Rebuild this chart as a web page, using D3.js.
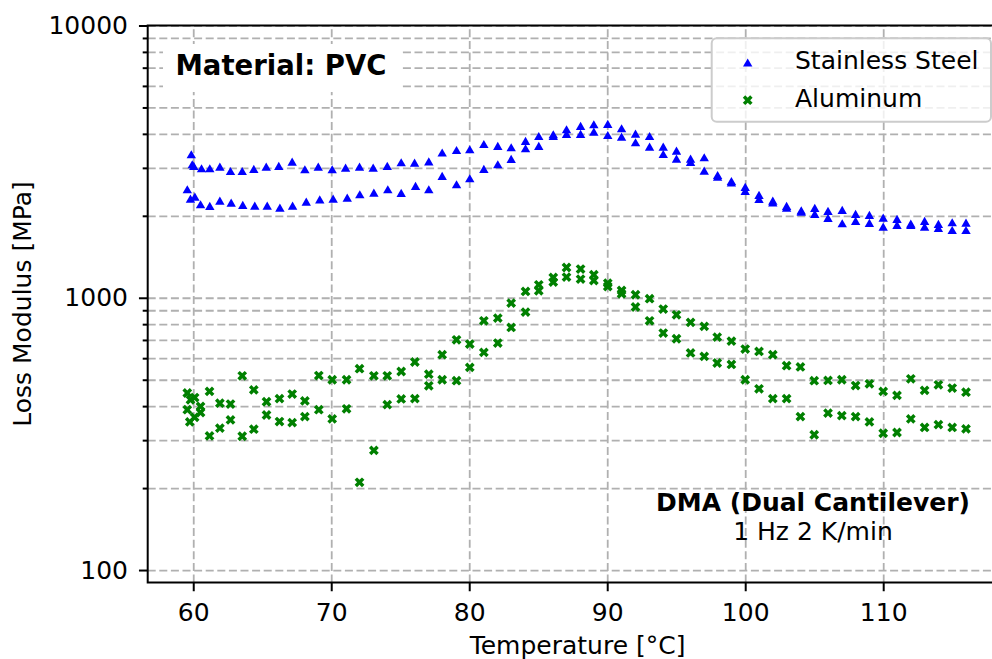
<!DOCTYPE html>
<html>
<head>
<meta charset="utf-8">
<script src="https://cdn.jsdelivr.net/npm/d3@7"></script>
<style>
body { margin: 0; background: #fff; }
svg { display: block; font-family: "DejaVu Sans", sans-serif; }
</style>
</head>
<body>
<script>
// [temperature °C, loss modulus MPa]
var steelRunA = [
    [59.86, 3360], [59.93, 3088], [60.04, 3044], [60.60, 2985], [61.20, 2985], [61.93, 3025],
    [62.70, 2917], [63.55, 2917], [64.39, 2967], [65.29, 3025], [66.20, 3044], [67.17, 3156],
    [68.09, 2960], [69.06, 3025], [70.07, 2960], [71.04, 3000], [72.05, 3025], [73.04, 3000],
    [74.06, 3044], [75.07, 3140], [76.04, 3130], [77.07, 3165], [78.04, 3411], [79.08, 3484],
    [80.04, 3505], [81.06, 3665], [82.07, 3604], [83.04, 3565], [84.08, 3760], [85.04, 3922],
    [86.09, 3980], [87.05, 4151], [88.07, 4269], [89.03, 4330], [90.04, 4341], [91.04, 4186],
    [92.05, 4000], [93.07, 3922], [94.06, 3583], [95.02, 3464], [96.04, 3237], [97.03, 3276],
    [98.0, 2820], [99.0, 2680], [100.0, 2548], [101.0, 2382], [102.0, 2270], [103.0, 2170],
    [104.06, 2090], [105.04, 2134], [106.0, 2080], [107.03, 2098], [108.0, 2028], [109.0, 2011],
    [110.0, 1966], [111.0, 1944], [112.0, 1870], [113.0, 1912], [114.0, 1865], [115.0, 1891],
    [116.0, 1884]
];
var steelRunB = [
    [59.57, 2499], [59.80, 2308], [60.12, 2348], [60.53, 2202], [61.20, 2171], [61.93, 2269],
    [62.75, 2231], [63.59, 2189], [64.46, 2176], [65.36, 2176], [66.28, 2139], [67.20, 2176],
    [68.19, 2250], [69.17, 2296], [70.14, 2308], [71.16, 2328], [72.07, 2396], [73.09, 2428],
    [74.10, 2499], [75.07, 2422], [76.11, 2570], [77.07, 2499], [78.04, 2797], [79.08, 2607],
    [80.04, 2743], [81.06, 2967], [82.07, 3088], [83.04, 3230], [84.08, 3535], [85.04, 3604],
    [86.09, 3922], [87.05, 3989], [88.07, 3989], [89.03, 4067], [90.04, 3955], [91.04, 3899],
    [92.05, 3719], [93.07, 3583], [94.06, 3368], [95.02, 3237], [96.04, 3148], [97.03, 2925],
    [98.0, 2780], [99.0, 2650], [100.0, 2464], [101.0, 2302], [102.0, 2236], [103.0, 2140],
    [104.06, 2070], [105.04, 2028], [106.0, 1961], [107.03, 1875], [108.0, 1912], [109.0, 1880],
    [110.0, 1821], [111.0, 1849], [112.0, 1850], [113.0, 1821], [114.0, 1801], [115.0, 1771],
    [116.0, 1771]
];
var aluRunA = [
    [59.57, 447], [59.80, 422], [60.10, 430], [60.53, 399], [61.18, 453], [61.93, 410],
    [62.70, 407], [63.55, 517], [64.39, 459], [65.31, 415], [66.25, 426], [67.17, 443],
    [68.09, 418], [69.10, 518], [70.07, 500], [71.11, 500], [72.05, 549], [73.09, 517],
    [74.06, 517], [75.07, 536], [76.06, 581], [77.07, 524], [78.04, 618], [79.08, 701],
    [80.04, 676], [81.06, 823], [82.07, 842], [83.04, 956], [84.08, 1055], [85.04, 1116],
    [86.09, 1187], [87.05, 1292], [88.07, 1275], [89.03, 1215], [90.04, 1132], [91.04, 1064],
    [92.05, 1026], [93.07, 992], [94.06, 909], [95.02, 866], [96.04, 812], [97.03, 785],
    [97.97, 717], [99.0, 693], [100.0, 648], [101.0, 635], [102.0, 618], [103.0, 563],
    [104.0, 557], [105.0, 496], [106.0, 497], [107.0, 500], [108.0, 476], [109.0, 483],
    [110.0, 453], [111.0, 438], [112.0, 504], [113.0, 457], [114.0, 479], [115.0, 466],
    [116.0, 450]
];
var aluRunB = [
    [59.57, 388], [59.75, 350], [60.10, 364], [60.53, 379], [61.18, 311], [61.93, 332],
    [62.70, 356], [63.55, 310], [64.39, 329], [65.31, 371], [66.25, 351], [67.17, 348],
    [68.09, 366], [69.10, 388], [70.07, 359], [71.11, 391], [72.05, 210], [73.09, 275],
    [74.06, 405], [75.07, 425], [76.06, 426], [77.07, 475], [78.04, 500], [79.08, 496],
    [80.04, 555], [81.06, 630], [82.07, 682], [83.04, 778], [84.08, 886], [85.04, 1061],
    [86.09, 1142], [87.05, 1191], [88.07, 1171], [89.03, 1157], [90.04, 1100], [91.04, 1034],
    [92.05, 925], [93.07, 823], [94.06, 742], [95.02, 707], [96.04, 627], [97.03, 609],
    [97.97, 576], [99.0, 569], [100.0, 500], [101.0, 463], [102.0, 426], [103.0, 426],
    [104.0, 366], [105.0, 314], [106.0, 377], [107.0, 369], [108.0, 366], [109.0, 350],
    [110.0, 318], [111.0, 320], [112.0, 359], [113.0, 334], [114.0, 342], [115.0, 334],
    [116.0, 330]
];

var xTicks = [60, 70, 80, 90, 100, 110];
var yMajorTicks = [100, 1000, 10000];
var yMinorTicks = [200, 300, 400, 500, 600, 700, 800, 900, 2000, 3000, 4000, 5000, 6000, 7000, 8000, 9000];
var seriesNames = ["Stainless Steel", "Aluminum"];
var seriesColors = ["#0000ff", "#008000"];

var trianglePath = "M0,-4.3L4.7,3.9L-4.7,3.9Z";
var crossPath = d3.symbol(d3.symbolCross, 60)();

function drawChart () {
    var width = 992,
        height = 659;

    var svg = d3.select("body").append("svg")
        .attr("width", width)
        .attr("height", height);

    var x = d3.scaleLinear().domain([56.7, 119]).range([147.7, 1007.4]);
    var y = d3.scaleLog().domain([90, 10000]).range([582.5, 25.5]);
    var left = x.range()[0], right = x.range()[1];
    var top = y.range()[1], bottom = y.range()[0];

    // grid
    var grid = svg.append("g").attr("class", "grid");
    grid.append("g")
        .attr("transform", "translate(" + left + ",0)")
        .call(d3.axisLeft(y).tickValues(yMajorTicks.concat(yMinorTicks)).tickSize(-(right - left)).tickFormat(""));
    grid.append("g")
        .attr("transform", "translate(0," + bottom + ")")
        .call(d3.axisBottom(x).tickValues(xTicks).tickSize(-(bottom - top)).tickFormat(""));
    grid.selectAll(".domain").remove();
    grid.selectAll("line")
        .attr("stroke", "#b0b0b0")
        .attr("stroke-width", 1.8)
        .attr("stroke-dasharray", "8,3.6");

    // data
    svg.append("clipPath").attr("id", "plotClip")
        .append("rect").attr("x", left).attr("y", top)
        .attr("width", right - left).attr("height", bottom - top);
    var plot = svg.append("g").attr("clip-path", "url(#plotClip)");

    function addPoints (data, shape, color, rotate) {
        plot.append("g").selectAll("path")
            .data(data)
            .enter().append("path")
            .attr("d", shape)
            .attr("fill", color)
            .attr("transform", function(d) {
                return "translate(" + x(d[0]) + "," + y(d[1]) + ")" + (rotate ? " rotate(45)" : "");
            });
    }
    addPoints(steelRunA, trianglePath, seriesColors[0], false);
    addPoints(steelRunB, trianglePath, seriesColors[0], false);
    addPoints(aluRunA, crossPath, seriesColors[1], true);
    addPoints(aluRunB, crossPath, seriesColors[1], true);

    // axes
    var yAxis = svg.append("g")
        .attr("transform", "translate(" + left + ",0)")
        .call(d3.axisLeft(y).tickValues(yMajorTicks).tickSize(8.75).tickPadding(11).tickFormat(d3.format("d")));
    var yMinorAxis = svg.append("g")
        .attr("transform", "translate(" + left + ",0)")
        .call(d3.axisLeft(y).tickValues(yMinorTicks).tickSize(5).tickFormat(""));
    var xAxis = svg.append("g")
        .attr("transform", "translate(0," + bottom + ")")
        .call(d3.axisBottom(x).tickValues(xTicks).tickSize(8.75).tickPadding(12));
    [yAxis, yMinorAxis, xAxis].forEach(function (g) {
        g.select(".domain").remove();
        g.selectAll("line").attr("stroke", "#000").attr("stroke-width", 2);
        g.selectAll("text").attr("font-size", 25).attr("fill", "#000").attr("font-family", "DejaVu Sans");
    });

    // spines
    svg.append("rect")
        .attr("x", left).attr("y", top)
        .attr("width", right - left).attr("height", bottom - top)
        .attr("fill", "none").attr("stroke", "#000").attr("stroke-width", 2);

    // axis labels
    svg.append("text")
        .attr("x", (left + right) / 2).attr("y", 654)
        .attr("text-anchor", "middle").attr("font-size", 25)
        .text("Temperature [°C]");
    svg.append("text")
        .attr("transform", "translate(31," + ((top + bottom) / 2) + ") rotate(-90)")
        .attr("text-anchor", "middle").attr("font-size", 25)
        .text("Loss Modulus [MPa]");

    // material box
    svg.append("rect")
        .attr("x", 163).attr("y", 44).attr("width", 238).attr("height", 48)
        .attr("fill", "#fff");
    svg.append("text")
        .attr("x", 175.5).attr("y", 74.5)
        .attr("font-size", 27.5).attr("font-weight", "bold")
        .text("Material: PVC");

    // test conditions
    svg.append("text")
        .attr("x", 813).attr("y", 511)
        .attr("text-anchor", "middle").attr("font-size", 25).attr("font-weight", "bold")
        .text("DMA (Dual Cantilever)");
    svg.append("text")
        .attr("x", 813).attr("y", 540)
        .attr("text-anchor", "middle").attr("font-size", 25)
        .text("1 Hz 2 K/min");

    // legend
    var legend = svg.append("g");
    legend.append("rect")
        .attr("x", 711.7).attr("y", 38.3).attr("width", 279.3).attr("height", 83.4)
        .attr("rx", 5).attr("fill", "#fff").attr("fill-opacity", 0.8)
        .attr("stroke", "#cccccc").attr("stroke-width", 2);
    var legendShapes = [trianglePath, crossPath];
    seriesNames.forEach(function (name, i) {
        var cy = 62.7 + i * 37.5;
        legend.append("path")
            .attr("d", legendShapes[i])
            .attr("fill", seriesColors[i])
            .attr("transform", "translate(747.7," + cy + ")" + (i === 1 ? " rotate(45)" : ""));
        legend.append("text")
            .attr("x", 795).attr("y", cy + 6.5)
            .attr("font-size", 25)
            .text(name);
    });
}

drawChart();
</script>
</body>
</html>
